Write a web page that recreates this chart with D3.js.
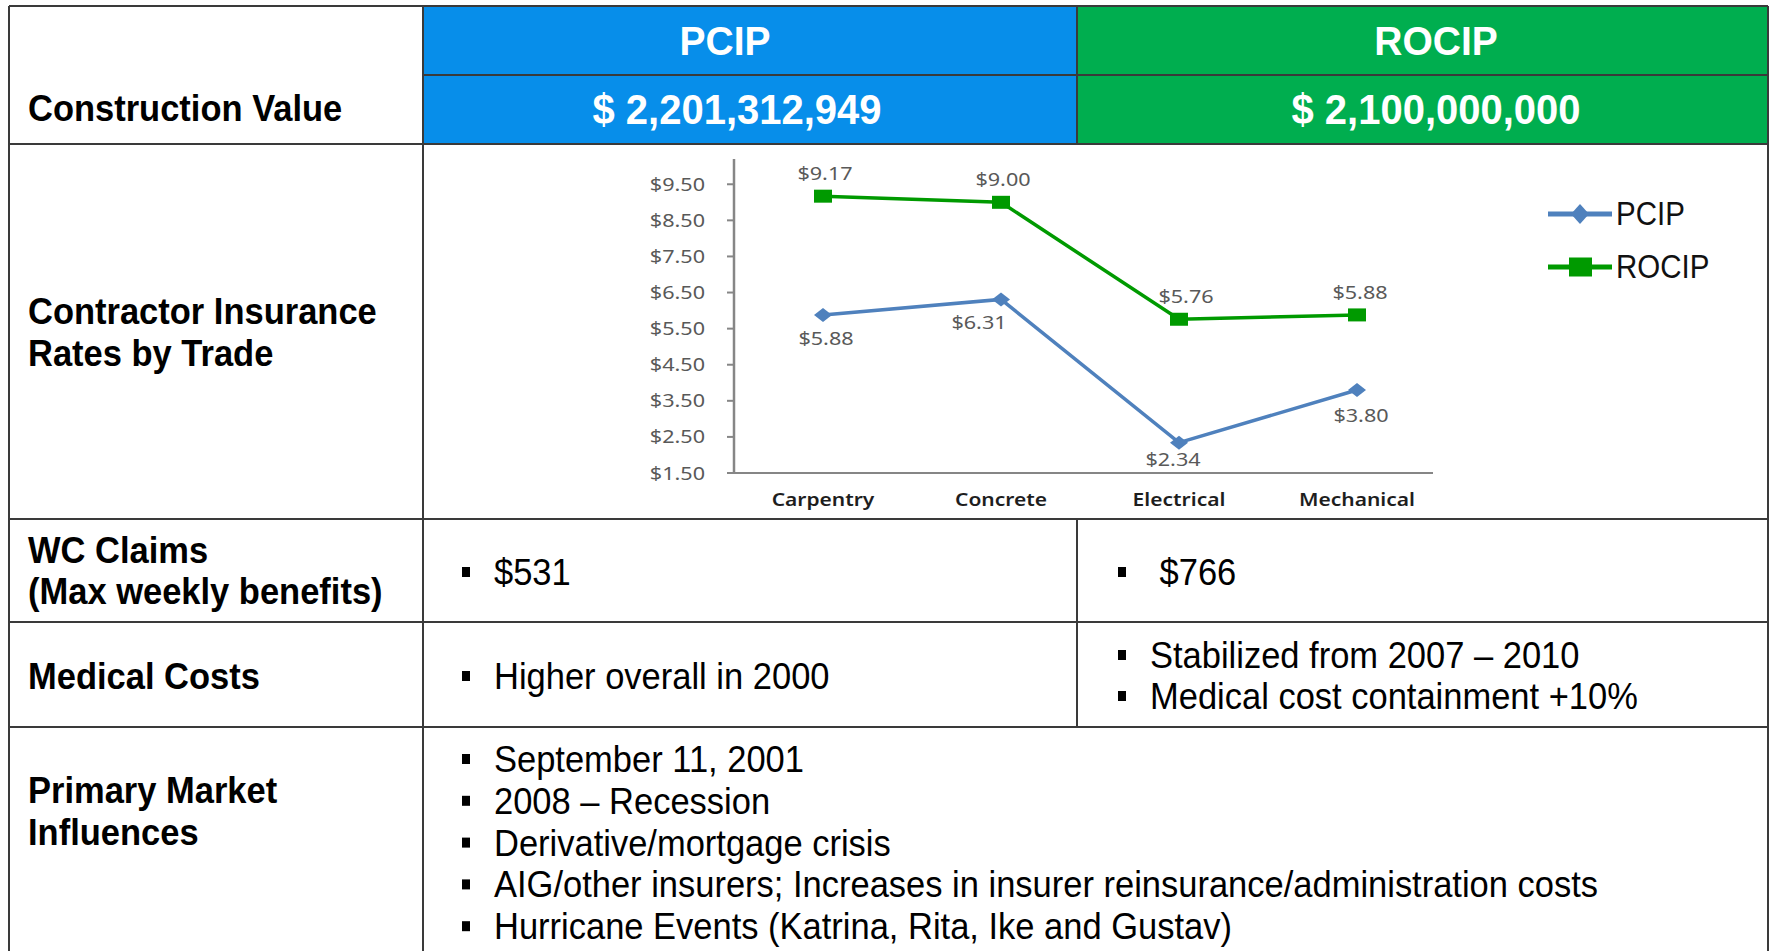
<!DOCTYPE html>
<html>
<head>
<meta charset="utf-8">
<script src="https://cdn.jsdelivr.net/npm/d3@7/dist/d3.min.js"></script>
<style>
  html, body { margin: 0; padding: 0; background: #ffffff; }
  svg { display: block; }
</style>
</head>
<body>
<svg id="chart" width="1774" height="951"></svg>
<script>
// ---------- data ----------
const categories = ["Carpentry", "Concrete", "Electrical", "Mechanical"];
const seriesNames = ["PCIP", "ROCIP"];
const pcipRates = [5.88, 6.31, 2.34, 3.80];
const rocipRates = [9.17, 9.00, 5.76, 5.88];
const yTickValues = [1.5, 2.5, 3.5, 4.5, 5.5, 6.5, 7.5, 8.5, 9.5];
const constructionValues = ["$ 2,201,312,949", "$ 2,100,000,000"];
const rowLabels = [
  ["Construction Value"],
  ["Contractor Insurance", "Rates by Trade"],
  ["WC Claims", "(Max weekly benefits)"],
  ["Medical Costs"],
  ["Primary Market", "Influences"]
];
const wcClaims = ["$531", " $766"];
const medicalPCIP = ["Higher overall in 2000"];
const medicalROCIP = ["Stabilized from 2007 \u2013 2010", "Medical cost containment +10%"];
const marketInfluences = [
  "September 11, 2001",
  "2008 \u2013 Recession",
  "Derivative/mortgage crisis",
  "AIG/other insurers; Increases in insurer reinsurance/administration costs",
  "Hurricane Events (Katrina, Rita, Ike and Gustav)"
];

// ---------- layout ----------
const W = 1774, H = 951;
const colX = [9, 423, 1077, 1768];
const rowY = [6, 75, 144, 519, 622, 727, 951];
const blue = "#078eea", green = "#00ae4f";
const lineCol = "#3a3a3a";
const pcipColor = "#4f81bd", rocipColor = "#009a00";

const svg = d3.select("#chart");
const tableFont = "'Liberation Sans', Arial, sans-serif";
const chartFont = "'Noto Sans', 'Open Sans', sans-serif";

// header fills
svg.append("rect").attr("x", colX[1]).attr("y", rowY[0]).attr("width", colX[2] - colX[1]).attr("height", rowY[2] - rowY[0]).attr("fill", blue);
svg.append("rect").attr("x", colX[2]).attr("y", rowY[0]).attr("width", colX[3] - colX[2]).attr("height", rowY[2] - rowY[0]).attr("fill", green);

// grid lines
const hLines = [
  [colX[1], colX[3], rowY[1]],
  [colX[0], colX[3], rowY[2]],
  [colX[0], colX[3], rowY[3]],
  [colX[0], colX[3], rowY[4]],
  [colX[0], colX[3], rowY[5]],
  [colX[0], colX[3], rowY[0]]
];
hLines.forEach(([x1, x2, y]) => svg.append("line").attr("x1", x1).attr("x2", x2).attr("y1", y).attr("y2", y).attr("stroke", lineCol).attr("stroke-width", 2));
const vLines = [
  [colX[0], rowY[0], H],
  [colX[1], rowY[0], H],
  [colX[3], rowY[0], H],
  [colX[2], rowY[0], rowY[2]],
  [colX[2], rowY[3], rowY[5]]
];
vLines.forEach(([x, y1, y2]) => svg.append("line").attr("x1", x).attr("x2", x).attr("y1", y1).attr("y2", y2).attr("stroke", lineCol).attr("stroke-width", 2));

// header texts
const headerCenters = [725, 1436];
seriesNames.forEach((s, i) => {
  svg.append("text").attr("transform", `translate(${headerCenters[i]},55) scale(1,1.06)`).attr("text-anchor", "middle")
    .attr("font-family", tableFont).attr("font-weight", "bold").attr("font-size", 39).attr("fill", "#fff").text(s);
});
const valueCenters = [737, 1436];
constructionValues.forEach((v, i) => {
  svg.append("text").attr("transform", `translate(${valueCenters[i]},124) scale(1,1.06)`).attr("text-anchor", "middle")
    .attr("font-family", tableFont).attr("font-weight", "bold").attr("font-size", 40).attr("fill", "#fff").text(v);
});

// row labels
const labelBaselines = [[121], [324, 366], [563, 604], [689], [803, 845]];
rowLabels.forEach((lines, r) => {
  lines.forEach((t, j) => {
    svg.append("text").attr("transform", `translate(28,${labelBaselines[r][j]}) scale(1,1.05)`)
      .attr("font-family", tableFont).attr("font-weight", "bold").attr("font-size", 34.5).attr("fill", "#000").text(t);
  });
});

// bullet helper
function bullet(x, textX, y, txt) {
  svg.append("rect").attr("x", x - 4).attr("y", y - 18).attr("width", 8).attr("height", 10).attr("fill", "#000");
  svg.append("text").attr("transform", `translate(${textX},${y}) scale(1,1.05)`).attr("font-family", tableFont).attr("font-size", 34.5).attr("fill", "#000")
    .attr("xml:space", "preserve").style("white-space", "pre").text(txt);
}
bullet(466, 494, 585, wcClaims[0]);
bullet(1122, 1150, 585, wcClaims[1]);
medicalPCIP.forEach((t, i) => bullet(466, 494, 689, t));
medicalROCIP.forEach((t, i) => bullet(1122, 1150, 668 + i * 41, t));
marketInfluences.forEach((t, i) => bullet(466, 494, 772 + i * 41.8, t));

// ---------- chart ----------
const x = d3.scalePoint().domain(categories).range([734, 1446]).padding(0.5);
const y = d3.scaleLinear().domain([1.5, 10.2]).range([473, 159]);
const sx = 1.2;
const axisCol = "#868686";
const g = svg.append("g");

// axes
g.append("line").attr("x1", 734).attr("x2", 734).attr("y1", y(10.2)).attr("y2", y(1.5)).attr("stroke", axisCol).attr("stroke-width", 2.5);
g.append("line").attr("x1", 727).attr("x2", 1433).attr("y1", y(1.5)).attr("y2", y(1.5)).attr("stroke", axisCol).attr("stroke-width", 2);
yTickValues.forEach(v => {
  g.append("line").attr("x1", 727).attr("x2", 734).attr("y1", y(v)).attr("y2", y(v)).attr("stroke", axisCol).attr("stroke-width", 2);
  g.append("text").attr("transform", `translate(705,${y(v) + 6.5}) scale(${sx},1)`).attr("text-anchor", "end")
    .attr("font-family", chartFont).attr("font-size", 18).attr("fill", "#595959").text("$" + v.toFixed(2));
});
categories.forEach(c => {
  g.append("text").attr("transform", `translate(${x(c)},${506}) scale(${sx},1)`).attr("text-anchor", "middle")
    .attr("font-family", chartFont).attr("font-weight", 600).attr("font-size", 17.5).attr("fill", "#1e1e1e").text(c);
});

const line = d3.line().x((d, i) => x(categories[i])).y(d => y(d));
g.append("path").datum(rocipRates).attr("d", line).attr("fill", "none").attr("stroke", rocipColor).attr("stroke-width", 3.5);
g.append("path").datum(pcipRates).attr("d", line).attr("fill", "none").attr("stroke", pcipColor).attr("stroke-width", 3.5);

// markers
rocipRates.forEach((v, i) => {
  g.append("rect").attr("x", x(categories[i]) - 9).attr("y", y(v) - 6.5).attr("width", 18).attr("height", 13).attr("fill", rocipColor);
});
pcipRates.forEach((v, i) => {
  const cx = x(categories[i]), cy = y(v);
  g.append("path").attr("d", `M${cx - 9},${cy} L${cx},${cy - 7} L${cx + 9},${cy} L${cx},${cy + 7} Z`).attr("fill", pcipColor);
});

// data labels (small nudges mimic the spreadsheet's label placement)
const rocipNudge = [[2, 0], [2, 0], [7, 0], [3, 0]];
const pcipNudge = [[3, 0], [-22, 0], [-6, -7], [4, 2]];
rocipRates.forEach((v, i) => {
  g.append("text").attr("transform", `translate(${x(categories[i]) + rocipNudge[i][0]},${y(v) - 16 + rocipNudge[i][1]}) scale(${sx},1)`).attr("text-anchor", "middle")
    .attr("font-family", chartFont).attr("font-size", 18).attr("fill", "#595959").text("$" + v.toFixed(2));
});
pcipRates.forEach((v, i) => {
  g.append("text").attr("transform", `translate(${x(categories[i]) + pcipNudge[i][0]},${y(v) + 30 + pcipNudge[i][1]}) scale(${sx},1)`).attr("text-anchor", "middle")
    .attr("font-family", chartFont).attr("font-size", 18).attr("fill", "#595959").text("$" + v.toFixed(2));
});

// legend
const legendY = [214, 267];
const legendColors = [pcipColor, rocipColor];
seriesNames.forEach((s, i) => {
  const ly = legendY[i];
  g.append("line").attr("x1", 1548).attr("x2", 1612).attr("y1", ly).attr("y2", ly).attr("stroke", legendColors[i]).attr("stroke-width", 5);
  if (i === 0) {
    g.append("path").attr("d", `M1571,${ly} L1580,${ly - 10} L1589,${ly} L1580,${ly + 10} Z`).attr("fill", pcipColor);
  } else {
    g.append("rect").attr("x", 1569).attr("y", ly - 9.5).attr("width", 23).attr("height", 19).attr("fill", rocipColor);
  }
  g.append("text").attr("transform", `translate(1616,${ly + 11}) scale(1,1.1)`).attr("font-family", tableFont).attr("font-size", 29.5)
    .attr("fill", "#111").text(s);
});
</script>
</body>
</html>
